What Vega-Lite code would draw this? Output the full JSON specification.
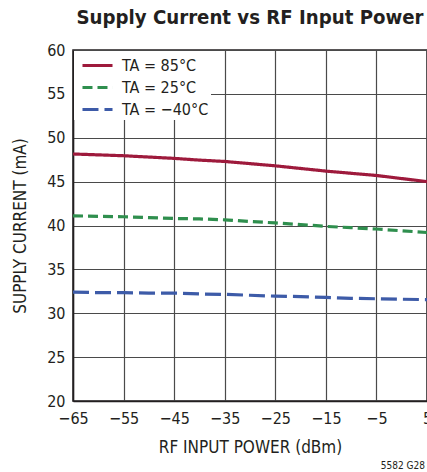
{
  "$schema": "https://vega.github.io/schema/vega-lite/v6.json",
  "autosize": "none",
  "padding": {"left": 73, "top": 50, "right": 0, "bottom": 71},
  "width": 354,
  "height": 351,
  "background": "white",
  "title": {
    "text": "Supply Current vs RF Input Power",
    "font": "DejaVu Sans Condensed",
    "fontSize": 20.2,
    "fontWeight": "bold",
    "color": "#231f20",
    "anchor": "middle",
    "offset": 14
  },
  "config": {
    "font": "DejaVu Sans Condensed",
    "view": {"stroke": "#231f20", "strokeWidth": 1.5},
    "axis": {
      "labelFont": "DejaVu Sans Condensed",
      "titleFont": "DejaVu Sans Condensed",
      "labelFontSize": 16,
      "titleFontSize": 17,
      "titleFontWeight": "normal",
      "labelColor": "#231f20",
      "titleColor": "#231f20",
      "gridColor": "#4a4a4a",
      "gridOpacity": 1,
      "gridWidth": 1.2,
      "domainColor": "#231f20",
      "domainWidth": 1.5,
      "ticks": false
    },
    "legend": {
      "labelFont": "DejaVu Sans Condensed",
      "labelFontSize": 16,
      "labelColor": "#231f20"
    }
  },
  "data": {
    "values": [
      {"power": -65, "current": 48.15, "series": "TA = 85°C"},
      {"power": -60, "current": 48.05, "series": "TA = 85°C"},
      {"power": -55, "current": 47.95, "series": "TA = 85°C"},
      {"power": -50, "current": 47.8, "series": "TA = 85°C"},
      {"power": -45, "current": 47.65, "series": "TA = 85°C"},
      {"power": -40, "current": 47.45, "series": "TA = 85°C"},
      {"power": -35, "current": 47.3, "series": "TA = 85°C"},
      {"power": -30, "current": 47.05, "series": "TA = 85°C"},
      {"power": -25, "current": 46.8, "series": "TA = 85°C"},
      {"power": -20, "current": 46.5, "series": "TA = 85°C"},
      {"power": -15, "current": 46.2, "series": "TA = 85°C"},
      {"power": -10, "current": 45.95, "series": "TA = 85°C"},
      {"power": -5, "current": 45.7, "series": "TA = 85°C"},
      {"power": 0, "current": 45.35, "series": "TA = 85°C"},
      {"power": 5, "current": 45.0, "series": "TA = 85°C"},
      {"power": -65, "current": 41.1, "series": "TA = 25°C"},
      {"power": -60, "current": 41.05, "series": "TA = 25°C"},
      {"power": -55, "current": 41.0, "series": "TA = 25°C"},
      {"power": -50, "current": 40.9, "series": "TA = 25°C"},
      {"power": -45, "current": 40.8, "series": "TA = 25°C"},
      {"power": -40, "current": 40.75, "series": "TA = 25°C"},
      {"power": -35, "current": 40.65, "series": "TA = 25°C"},
      {"power": -30, "current": 40.45, "series": "TA = 25°C"},
      {"power": -25, "current": 40.3, "series": "TA = 25°C"},
      {"power": -20, "current": 40.1, "series": "TA = 25°C"},
      {"power": -15, "current": 39.9, "series": "TA = 25°C"},
      {"power": -10, "current": 39.75, "series": "TA = 25°C"},
      {"power": -5, "current": 39.6, "series": "TA = 25°C"},
      {"power": 0, "current": 39.4, "series": "TA = 25°C"},
      {"power": 5, "current": 39.2, "series": "TA = 25°C"},
      {"power": -65, "current": 32.4, "series": "TA = −40°C"},
      {"power": -60, "current": 32.35, "series": "TA = −40°C"},
      {"power": -55, "current": 32.35, "series": "TA = −40°C"},
      {"power": -50, "current": 32.3, "series": "TA = −40°C"},
      {"power": -45, "current": 32.3, "series": "TA = −40°C"},
      {"power": -40, "current": 32.2, "series": "TA = −40°C"},
      {"power": -35, "current": 32.15, "series": "TA = −40°C"},
      {"power": -30, "current": 32.05, "series": "TA = −40°C"},
      {"power": -25, "current": 31.95, "series": "TA = −40°C"},
      {"power": -20, "current": 31.9, "series": "TA = −40°C"},
      {"power": -15, "current": 31.8, "series": "TA = −40°C"},
      {"power": -10, "current": 31.7, "series": "TA = −40°C"},
      {"power": -5, "current": 31.65, "series": "TA = −40°C"},
      {"power": 0, "current": 31.6, "series": "TA = −40°C"},
      {"power": 5, "current": 31.55, "series": "TA = −40°C"}
    ]
  },
  "layer": [
    {
      "mark": {"type": "line", "strokeWidth": 3.2},
      "encoding": {
        "x": {
          "field": "power",
          "type": "quantitative",
          "scale": {"domain": [-65, 5], "nice": false, "zero": false},
          "axis": {
            "values": [-65, -55, -45, -35, -25, -15, -5, 5],
            "title": "RF INPUT POWER (dBm)",
            "labelPadding": 9,
            "titlePadding": 13,
            "labelFlush": false
          }
        },
        "y": {
          "field": "current",
          "type": "quantitative",
          "scale": {"domain": [20, 60], "nice": false, "zero": false},
          "axis": {
            "values": [20, 25, 30, 35, 40, 45, 50, 55, 60],
            "title": "SUPPLY CURRENT (mA)",
            "labelPadding": 8,
            "titlePadding": 17,
            "labelFlush": false
          }
        },
        "color": {
          "field": "series",
          "type": "nominal",
          "scale": {
            "domain": ["TA = 85°C", "TA = 25°C", "TA = −40°C"],
            "range": ["#9e1a3c", "#2f8f4e", "#3d5ba8"]
          },
          "legend": {
            "title": null,
            "orient": "top-left",
            "offset": 1,
            "fillColor": "white",
            "padding": 2,
            "symbolType": "M-1.43,0H1.43",
            "symbolSize": 441,
            "symbolStrokeWidth": 3.2,
            "symbolFillColor": "transparent",
            "symbolOffset": 9,
            "rowPadding": 1,
            "labelOffset": 12
          }
        },
        "strokeDash": {
          "field": "series",
          "type": "nominal",
          "scale": {
            "domain": ["TA = 85°C", "TA = 25°C", "TA = −40°C"],
            "range": [[1, 0], [10, 5], [16, 6]]
          },
          "legend": {
            "title": null,
            "orient": "top-left",
            "offset": 1,
            "fillColor": "white",
            "padding": 2,
            "symbolType": "M-1.43,0H1.43",
            "symbolSize": 441,
            "symbolStrokeWidth": 3.2,
            "symbolFillColor": "transparent",
            "symbolOffset": 9,
            "rowPadding": 1,
            "labelOffset": 12
          }
        }
      }
    },
    {
      "data": {"values": [{"power": 5, "current": 12.6, "note": "5582 G28"}]},
      "mark": {"type": "text", "align": "right", "baseline": "middle", "fontSize": 10, "dx": -2, "color": "#231f20"},
      "encoding": {
        "x": {"field": "power", "type": "quantitative"},
        "y": {"field": "current", "type": "quantitative"},
        "text": {"field": "note"}
      }
    }
  ]
}
